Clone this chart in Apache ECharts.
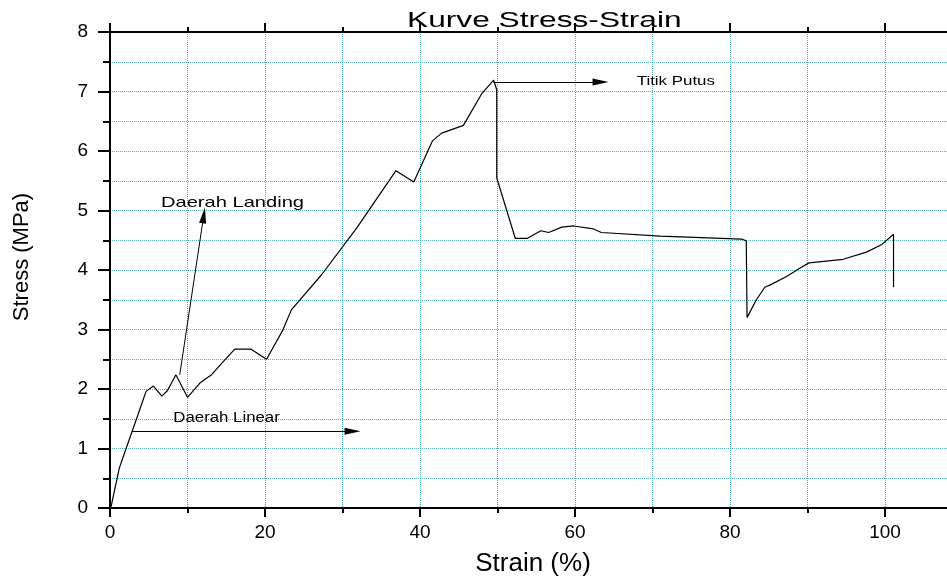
<!DOCTYPE html>
<html>
<head>
<meta charset="utf-8">
<title>Kurve Stress-Strain</title>
<script src="https://cdn.jsdelivr.net/npm/echarts@6/dist/echarts.min.js"></script>
<style>
  html, body { margin: 0; padding: 0; background: #fff; }
  #main { width: 947px; height: 578px; }
</style>
</head>
<body>
<div id="main"></div>
<script>
// data
var strain = [0.1, 1.2, 2.0, 3.7, 4.65, 5.6, 6.7, 7.4, 8.5, 10.0, 11.6, 13.1, 14.2, 16.1, 18.2, 20.2, 22.3, 23.4, 27.3, 31.8,
              36.9, 39.2, 41.6, 42.8, 45.6, 48.0, 49.5, 49.9, 49.9, 52.3, 53.8, 55.6, 56.6, 58.3, 59.8, 62.4, 63.4, 71.0,
              81.5, 82.1, 82.2, 83.4, 84.5, 85.2, 87.3, 89.0, 90.2, 94.6, 97.6, 99.6, 101.1, 101.1];
var stress = [0, 0.67, 0.97, 1.6, 1.96, 2.05, 1.88, 1.97, 2.24, 1.86, 2.1, 2.24, 2.4, 2.67, 2.67, 2.5, 2.99, 3.33, 3.92, 4.7,
              5.67, 5.48, 6.17, 6.3, 6.43, 6.97, 7.19, 7.03, 5.55, 4.53, 4.53, 4.66, 4.63, 4.72, 4.74, 4.69, 4.63, 4.57,
              4.52, 4.49, 3.2, 3.5, 3.71, 3.75, 3.89, 4.03, 4.12, 4.18, 4.3, 4.43, 4.6, 3.71];

// annotations (arrows + notes), in data units
var arrowStart = [[2.8, 1.29], [9.0, 2.24], [49.5, 7.16]];
var arrowEnd   = [[31.3, 1.29], [12.1, 4.92], [63.3, 7.16]];
var noteText = ['Daerah Linear', 'Daerah Landing', 'Titik Putus'];
var notePos  = [[8.17, 1.51], [6.58, 5.13], [67.96, 7.17]];

var font = 'Liberation Sans, Arial, sans-serif';
var gridColor = '#55b0b0';

var chart = echarts.init(document.getElementById('main'));

var points = strain.map(function (x, i) { return [x, stress[i]]; });

function xAxisCfg(pos) {
  return {
    type: 'value',
    position: pos,
    min: 0,
    max: 120,
    interval: 20,
    axisLine: { show: true, onZero: false, lineStyle: { color: '#000', width: 2 } },
    axisTick: { show: true, length: 9, lineStyle: { color: '#000', width: 2 } },
    minorTick: { show: true, splitNumber: 2, length: 5, lineStyle: { color: '#000', width: 2 } },
    axisLabel: {
      show: pos === 'bottom',
      margin: 15,
      color: '#000',
      fontSize: 19,
      fontFamily: font,
      formatter: function (v) { return v <= 100 ? v : ''; }
    },
    splitLine: { show: pos === 'bottom', lineStyle: { color: gridColor, type: 'dotted', width: 1 } },
    minorSplitLine: { show: pos === 'bottom', lineStyle: { color: gridColor, type: 'dotted', width: 1 } }
  };
}

var xBottom = xAxisCfg('bottom');
xBottom.name = 'Strain (%)';
xBottom.nameLocation = 'middle';
xBottom.nameGap = 43;
xBottom.nameTextStyle = { color: '#000', fontSize: 26, fontFamily: font, padding: [0, 84, 0, 0] };

var option = {
  animation: false,
  backgroundColor: '#fff',
  grid: { left: 110, top: 32, bottom: 70, right: -93, containLabel: false, outerBoundsMode: 'none' },
  xAxis: [xBottom, xAxisCfg('top')],
  yAxis: {
    type: 'value',
    min: 0,
    max: 8,
    interval: 1,
    name: 'Stress (MPa)',
    nameLocation: 'middle',
    nameGap: 77,
    nameTextStyle: { color: '#000', fontSize: 22, fontFamily: font, padding: [0, 0, 0, 26] },
    axisLine: { show: true, lineStyle: { color: '#000', width: 2 } },
    axisTick: { show: true, length: 12, lineStyle: { color: '#000', width: 2 } },
    minorTick: { show: true, splitNumber: 2, length: 7, lineStyle: { color: '#000', width: 2 } },
    axisLabel: { margin: 22, color: '#000', fontSize: 19, fontFamily: font },
    splitLine: { show: true, lineStyle: { color: gridColor, type: 'dotted', width: 1 } },
    minorSplitLine: { show: true, lineStyle: { color: gridColor, type: 'dotted', width: 1 } }
  },
  series: [
    {
      type: 'line',
      data: points,
      symbol: 'none',
      lineStyle: { color: '#000', width: 1.2 },
      silent: true
    },
    {
      type: 'line',
      data: [],
      silent: true,
      markLine: {
        silent: true,
        symbol: ['none', 'triangle'],
        symbolSize: [7, 16],
        label: { show: false },
        lineStyle: { color: '#000', width: 1, type: 'solid' },
        emphasis: { disabled: true },
        data: arrowStart.map(function (s, i) {
          return [{ coord: s }, { coord: arrowEnd[i] }];
        })
      }
    }
  ]
};

chart.setOption(option);

// text drawn horizontally stretched like the source picture
var noteSize = [14, 15, 13];
var noteStretch = [1.2, 1.34, 1.3];
var texts = noteText.map(function (t, i) {
  var p = chart.convertToPixel({ gridIndex: 0 }, notePos[i]);
  return {
    type: 'text',
    x: p[0],
    y: p[1],
    scaleX: noteStretch[i],
    silent: true,
    style: {
      text: t,
      fill: '#000',
      fontSize: noteSize[i],
      fontFamily: font,
      align: 'left',
      verticalAlign: 'middle'
    }
  };
});
texts.push({
  type: 'text',
  x: 407,
  y: 21,
  scaleX: 1.44,
  silent: true,
  style: {
    text: 'Kurve Stress-Strain',
    fill: '#000',
    fontSize: 22,
    fontFamily: font,
    align: 'left',
    verticalAlign: 'middle'
  }
});

chart.setOption({ graphic: texts });
</script>
</body>
</html>
